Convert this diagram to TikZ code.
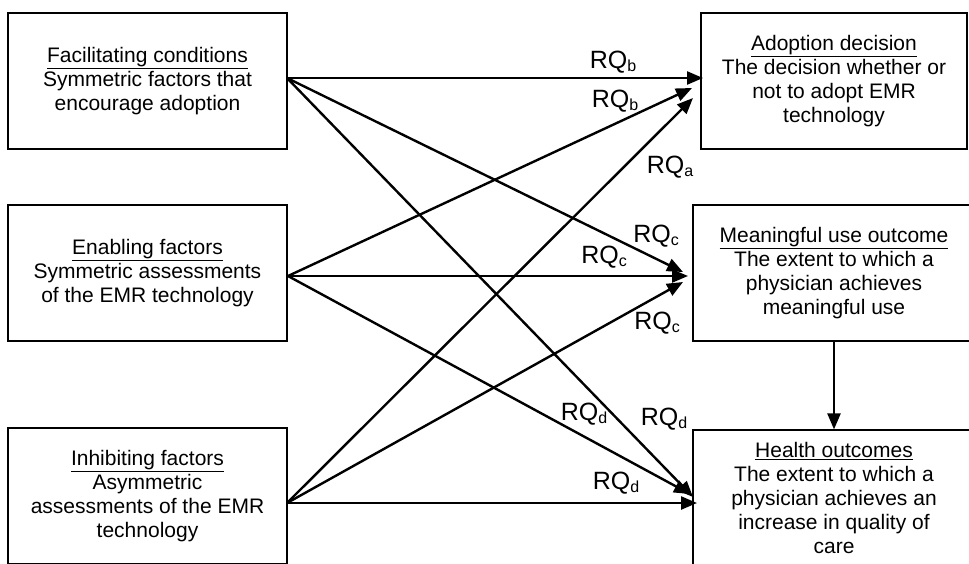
\documentclass[tikz,border=0pt]{standalone}
\usepackage{fontspec}
\setmainfont{Liberation Sans}
\usetikzlibrary{arrows.meta}

\newcommand{\rqsub}[1]{\raisebox{-3pt}{\fontsize{16}{16}\selectfont #1}}

\tikzset{
    box/.style={draw, line width=1.2pt, minimum width=279pt, minimum height=136pt,
        inner sep=0pt, align=center, font=\fontsize{21}{24}\selectfont},
    arr/.style={line width=2.4pt, -{Triangle[length=16pt,width=13pt]}},
    rq/.style={inner sep=0pt, font=\fontsize{25}{25}\selectfont}
}

\begin{document}
\begin{tikzpicture}[x=1pt, y=-1pt]
    \useasboundingbox (0,0) rectangle (969,563);

    % Boxes
    \node[box] (fac) at (147.5,81) {\underline{Facilitating conditions}\\Symmetric factors that\\encourage adoption};
    \node[box] (ena) at (147.5,273) {\underline{Enabling factors}\\Symmetric assessments\\of the EMR technology};
    \node[box] (inh) at (147.5,496) {\underline{Inhibiting factors}\\Asymmetric\\assessments of the EMR\\technology};

    \node[box, minimum width=266pt] (adop) at (834,81) {\underline{Adoption decision}\\The decision whether or\\not to adopt EMR\\technology};
    \node[box, minimum width=282pt] (mean) at (834,273) {\underline{Meaningful use outcome}\\The extent to which a\\physician achieves\\meaningful use};
    \node[box, minimum width=282pt] (health) at (834,498) {\underline{Health outcomes}\\The extent to which a\\physician achieves an\\increase in quality of\\care};

    % Define end points of the arrows
    \coordinate (f) at (287,78);
    \coordinate (e) at (288,276);
    \coordinate (i) at (287,503);

    \coordinate (a1) at (703,78);
    \coordinate (a2) at (692,88);
    \coordinate (a3) at (693,98);
    \coordinate (m1) at (683,272);
    \coordinate (m2) at (688,276);
    \coordinate (m3) at (683,282);
    \coordinate (h1) at (693,497);
    \coordinate (h2) at (690,494);
    \coordinate (h3) at (697,503);

    % Draw arrows
    \foreach \s/\t in {f/a1, e/a2, i/a3, f/m1, e/m2, i/m3, f/h1, e/h2, i/h3} {
        \draw[arr] (\s) -- (\t);
    }
    \draw[arr] (mean) -- (health);

    % Label arrows
    \foreach \x/\y/\q [count=\k] in {613/62/b, 615/101/b, 670/167/a, 656/236/c, 604/257/c,
        657/323/c, 584/414/d, 664/419/d, 616/483/d} {
        \node[rq] (rq\k) at (\x,\y) {RQ\rqsub{\q}};
    }
\end{tikzpicture}
\end{document}
